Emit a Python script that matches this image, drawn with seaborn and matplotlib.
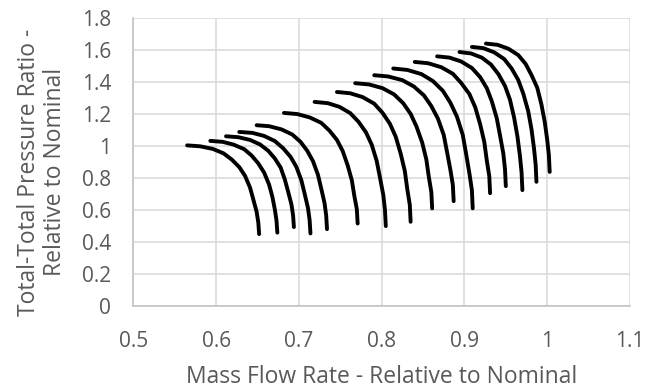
import numpy as np
import pandas as pd
import matplotlib
matplotlib.use("Agg")
import matplotlib.pyplot as plt
from matplotlib.ticker import FuncFormatter
import seaborn as sns

# Speed lines (mass flow, pressure ratio)
c01_x = [0.565, 0.581, 0.596, 0.609, 0.619, 0.628, 0.635, 0.641, 0.645, 0.649, 0.651, 0.652]
c01_y = [1.005, 0.999, 0.983, 0.955, 0.916, 0.869, 0.814, 0.741, 0.666, 0.589, 0.522, 0.450]
c02_x = [0.593, 0.608, 0.621, 0.634, 0.643, 0.651, 0.658, 0.664, 0.668, 0.671, 0.673, 0.674]
c02_y = [1.033, 1.027, 1.010, 0.981, 0.941, 0.892, 0.835, 0.760, 0.683, 0.603, 0.534, 0.459]
c03_x = [0.612, 0.627, 0.641, 0.653, 0.663, 0.671, 0.678, 0.683, 0.687, 0.691, 0.693, 0.694]
c03_y = [1.062, 1.056, 1.039, 1.011, 0.971, 0.923, 0.866, 0.792, 0.716, 0.636, 0.568, 0.494]
c04_x = [0.628, 0.644, 0.658, 0.671, 0.681, 0.690, 0.697, 0.703, 0.707, 0.711, 0.713, 0.714]
c04_y = [1.089, 1.083, 1.064, 1.032, 0.987, 0.933, 0.870, 0.787, 0.702, 0.613, 0.537, 0.454]
c05_x = [0.649, 0.664, 0.679, 0.692, 0.702, 0.710, 0.717, 0.723, 0.727, 0.731, 0.733, 0.734]
c05_y = [1.131, 1.125, 1.105, 1.073, 1.027, 0.972, 0.907, 0.822, 0.735, 0.644, 0.566, 0.481]
c06_x = [0.682, 0.698, 0.713, 0.727, 0.737, 0.746, 0.753, 0.759, 0.764, 0.767, 0.770, 0.771]
c06_y = [1.208, 1.201, 1.180, 1.146, 1.097, 1.039, 0.969, 0.879, 0.786, 0.689, 0.606, 0.516]
c07_x = [0.719, 0.735, 0.749, 0.762, 0.772, 0.781, 0.788, 0.794, 0.798, 0.802, 0.804, 0.805]
c07_y = [1.277, 1.269, 1.246, 1.207, 1.153, 1.087, 1.009, 0.908, 0.803, 0.694, 0.601, 0.500]
c08_x = [0.746, 0.762, 0.777, 0.791, 0.801, 0.810, 0.817, 0.823, 0.828, 0.831, 0.834, 0.835]
c08_y = [1.339, 1.331, 1.307, 1.266, 1.209, 1.140, 1.059, 0.953, 0.844, 0.730, 0.633, 0.527]
c09_x = [0.768, 0.785, 0.801, 0.815, 0.826, 0.835, 0.842, 0.849, 0.854, 0.857, 0.860, 0.861]
c09_y = [1.394, 1.386, 1.363, 1.324, 1.269, 1.202, 1.124, 1.022, 0.916, 0.807, 0.713, 0.611]
c10_x = [0.791, 0.808, 0.825, 0.839, 0.851, 0.860, 0.868, 0.875, 0.879, 0.883, 0.886, 0.887]
c10_y = [1.444, 1.436, 1.413, 1.373, 1.318, 1.251, 1.172, 1.070, 0.963, 0.853, 0.758, 0.656]
c11_x = [0.814, 0.831, 0.848, 0.862, 0.874, 0.883, 0.891, 0.898, 0.902, 0.906, 0.909, 0.910]
c11_y = [1.486, 1.477, 1.451, 1.407, 1.346, 1.272, 1.184, 1.070, 0.952, 0.830, 0.725, 0.611]
c12_x = [0.840, 0.856, 0.872, 0.886, 0.896, 0.906, 0.913, 0.919, 0.924, 0.927, 0.930, 0.931]
c12_y = [1.527, 1.519, 1.494, 1.453, 1.396, 1.326, 1.244, 1.137, 1.026, 0.911, 0.813, 0.706]
c13_x = [0.867, 0.882, 0.896, 0.909, 0.919, 0.927, 0.933, 0.939, 0.943, 0.947, 0.949, 0.950]
c13_y = [1.562, 1.554, 1.530, 1.489, 1.432, 1.363, 1.282, 1.176, 1.067, 0.953, 0.856, 0.750]
c14_x = [0.894, 0.908, 0.921, 0.932, 0.941, 0.949, 0.955, 0.960, 0.964, 0.967, 0.969, 0.970]
c14_y = [1.589, 1.580, 1.554, 1.511, 1.451, 1.377, 1.291, 1.179, 1.062, 0.941, 0.837, 0.725]
c15_x = [0.909, 0.923, 0.936, 0.948, 0.957, 0.965, 0.971, 0.977, 0.981, 0.984, 0.986, 0.987]
c15_y = [1.621, 1.613, 1.587, 1.545, 1.486, 1.414, 1.330, 1.220, 1.106, 0.988, 0.887, 0.777]
c16_x = [0.926, 0.940, 0.953, 0.965, 0.974, 0.981, 0.988, 0.993, 0.997, 1.000, 1.002, 1.003]
c16_y = [1.642, 1.634, 1.610, 1.570, 1.514, 1.445, 1.365, 1.261, 1.152, 1.040, 0.944, 0.839]

curves_x = [c01_x, c02_x, c03_x, c04_x, c05_x, c06_x, c07_x, c08_x,
            c09_x, c10_x, c11_x, c12_x, c13_x, c14_x, c15_x, c16_x]
curves_y = [c01_y, c02_y, c03_y, c04_y, c05_y, c06_y, c07_y, c08_y,
            c09_y, c10_y, c11_y, c12_y, c13_y, c14_y, c15_y, c16_y]

x_ticks = [0.5, 0.6, 0.7, 0.8, 0.9, 1.0, 1.1]
y_ticks = [0, 0.2, 0.4, 0.6, 0.8, 1.0, 1.2, 1.4, 1.6, 1.8]
x_label = "Mass Flow Rate - Relative to Nominal"
y_label = "Total-Total Pressure Ratio -\nRelative to Nominal"

rows = []
for i, (xs, ys) in enumerate(zip(curves_x, curves_y)):
    for k, (xv, yv) in enumerate(zip(xs, ys)):
        rows.append({"curve": i, "order": k, "flow": xv, "pr": yv})
df = pd.DataFrame(rows)

sns.set_theme(style="white")
plt.rcParams["font.family"] = ["Open Sans", "DejaVu Sans"]

fig = plt.figure(figsize=(6.6, 3.89), dpi=100)
ax = fig.add_axes([133.3 / 660, 1 - 306 / 389, (630 - 133.3) / 660, (306 - 18.3) / 389])

sns.lineplot(data=df, x="flow", y="pr", units="curve", estimator=None, sort=False,
             color="black", linewidth=2.8, ax=ax, solid_capstyle="round",
             solid_joinstyle="round")

ax.set_xlim(0.5, 1.1)
ax.set_ylim(0, 1.8)
ax.set_xticks(x_ticks)
ax.set_yticks(y_ticks)
fmt = FuncFormatter(lambda v, p: f"{v:g}")
ax.xaxis.set_major_formatter(fmt)
ax.yaxis.set_major_formatter(fmt)
ax.grid(True, color="#d9d9d9", linewidth=1.1)
ax.set_axisbelow(True)
for s in ["top", "right"]:
    ax.spines[s].set_visible(False)
for s in ["left", "bottom"]:
    ax.spines[s].set_color("#bfbfbf")
    ax.spines[s].set_linewidth(1.1)
ax.tick_params(axis="both", length=0, labelsize=15, labelcolor="#595959")
ax.tick_params(axis="x", pad=18)
ax.tick_params(axis="y", pad=16)

ax.set_xlabel(x_label, fontsize=16.5, color="#595959")
ax.set_ylabel(y_label, fontsize=16.5, color="#595959", linespacing=1.1)
ax.xaxis.set_label_coords(0.5, -0.205)
ax.yaxis.set_label_coords(-0.133, 0.466)

fig.savefig("out.png", dpi=100)
